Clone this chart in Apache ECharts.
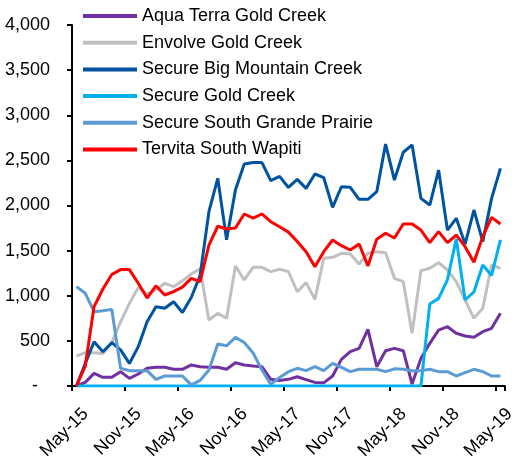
<!DOCTYPE html>
<html>
<head>
<meta charset="utf-8">
<script src="https://cdn.jsdelivr.net/npm/echarts@6/dist/echarts.min.js"></script>
<style>
html, body { margin: 0; padding: 0; background: #fff; }
#main { width: 518px; height: 466px; }
</style>
</head>
<body>
<div id="main"></div>
<script>
// monthly volumes, May-15 .. May-19
var months = ['May-15','Jun-15','Jul-15','Aug-15','Sep-15','Oct-15','Nov-15','Dec-15',
  'Jan-16','Feb-16','Mar-16','Apr-16','May-16','Jun-16','Jul-16','Aug-16','Sep-16','Oct-16','Nov-16','Dec-16',
  'Jan-17','Feb-17','Mar-17','Apr-17','May-17','Jun-17','Jul-17','Aug-17','Sep-17','Oct-17','Nov-17','Dec-17',
  'Jan-18','Feb-18','Mar-18','Apr-18','May-18','Jun-18','Jul-18','Aug-18','Sep-18','Oct-18','Nov-18','Dec-18',
  'Jan-19','Feb-19','Mar-19','Apr-19','May-19'];

var aquaTerra = [0, 40, 140, 96, 96, 159, 85, 133, 196, 207, 207, 185, 185, 233, 214, 207, 207, 185, 258, 233,
  222, 214, 74, 60, 74, 103, 70, 40, 35, 111, 295, 380, 417, 628, 214, 391, 417, 391, 22, 306,
  473, 620, 657, 584, 554, 539, 602, 639, 805];
var envolve = [332, 369, 369, 360, 480, 710, 916, 1090, 1020, 1064, 1138, 1101, 1165, 1241, 1300, 731, 805, 750, 1330, 1175,
  1315, 1315, 1267, 1293, 1267, 1045, 1145, 960, 1415, 1426, 1470, 1463, 1352, 1470, 1488, 1477, 1193, 1156, 584, 1278,
  1304, 1366, 1285, 1156, 953, 750, 861, 1341, 1304];
var bigMountain = [0, 250, 490, 380, 480, 400, 250, 436, 713, 879, 861, 934, 815, 980, 1225, 1931, 2301, 1620, 2172, 2460,
  2476, 2476, 2275, 2323, 2200, 2290, 2190, 2349, 2308, 1980, 2208, 2201, 2068, 2068, 2153, 2681, 2282, 2590, 2670, 2079,
  2005, 2393, 1728, 1858, 1573, 1950, 1599, 2079, 2412];
var goldCreek = [0, 0, 0, 0, 0, 0, 0, 0, 0, 0, 0, 0, 0, 0, 0, 0, 0, 0, 0, 0,
  0, 0, 0, 0, 0, 0, 0, 0, 0, 0, 0, 0, 0, 0, 0, 0, 0, 0, 0, 0,
  909, 971, 1175, 1630, 953, 1042, 1341, 1225, 1620];
var southGP = [1101, 1027, 823, 834, 849, 196, 170, 170, 170, 74, 111, 111, 111, 13, 62, 177, 465, 445, 539, 482,
  365, 177, 20, 95, 159, 196, 170, 214, 170, 251, 207, 159, 185, 185, 185, 159, 190, 185, 170, 170,
  185, 159, 159, 111, 148, 185, 159, 111, 111];
var tervita = [0, 220, 880, 1075, 1235, 1290, 1290, 1138, 975, 1110, 1008, 1045, 1095, 1193, 1156, 1560, 1770, 1740, 1750, 1906,
  1860, 1906, 1820, 1765, 1705, 1600, 1488, 1322, 1488, 1618, 1555, 1507, 1573, 1330, 1625, 1692, 1640, 1795, 1795, 1728,
  1588, 1710, 1588, 1673, 1544, 1370, 1655, 1869, 1795];

var names = ['Aqua Terra Gold Creek', 'Envolve Gold Creek', 'Secure Big Mountain Creek',
  'Secure Gold Creek', 'Secure South Grande Prairie', 'Tervita South Wapiti'];
var colors = ['#7030A0', '#C0C0C0', '#0053A0', '#00B0F0', '#5B9BD5', '#FF0000'];
var yTicks = [0, 500, 1000, 1500, 2000, 2500, 3000, 3500, 4000];

var font = "'Liberation Sans', Arial, sans-serif";

function mk(i, data) {
  return {
    name: names[i],
    type: 'line',
    data: data,
    symbol: 'none',
    smooth: false,
    lineStyle: { width: 3, color: colors[i] },
    itemStyle: { color: colors[i] }
  };
}

var chart = echarts.init(document.getElementById('main'));
chart.setOption({
  animation: false,
  grid: { left: 72, right: 2, top: 25, bottom: 80, containLabel: false },
  legend: {
    orient: 'vertical',
    left: 83,
    top: 6,
    padding: 0,
    icon: 'rect',
    itemWidth: 54,
    itemHeight: 4,
    itemGap: 6.7,
    textStyle: { fontSize: 18, lineHeight: 20, fontFamily: font, color: '#000' },
    data: names
  },
  xAxis: {
    type: 'category',
    data: months,
    boundaryGap: true,
    axisLine: { lineStyle: { color: '#000', width: 2 } },
    axisTick: { show: true, interval: 5, length: 5, lineStyle: { color: '#000', width: 2 } },
    axisLabel: {
      interval: 5, rotate: 45, fontSize: 18, fontFamily: font, color: '#000',
      margin: 16, verticalAlign: 'top', padding: [4, 0, 0, 0]
    },
    splitLine: { show: false }
  },
  yAxis: {
    type: 'value',
    min: yTicks[0],
    max: yTicks[yTicks.length - 1],
    interval: 500,
    axisLine: { show: true, lineStyle: { color: '#000', width: 2 } },
    axisTick: { show: true, length: 5, lineStyle: { color: '#000', width: 2 } },
    splitLine: { show: false },
    axisLabel: {
      fontSize: 18, fontFamily: font, color: '#000', margin: 22,
      formatter: function (v) {
        if (v === 0) return '{d|-}';
        return v.toLocaleString('en-US');
      },
      rich: { d: { fontSize: 18, fontFamily: font, color: '#000', padding: [0, 12, 0, 0] } }
    }
  },
  series: [mk(0, aquaTerra), mk(1, envolve), mk(2, bigMountain), mk(3, goldCreek), mk(4, southGP), mk(5, tervita)]
});
</script>
</body>
</html>
